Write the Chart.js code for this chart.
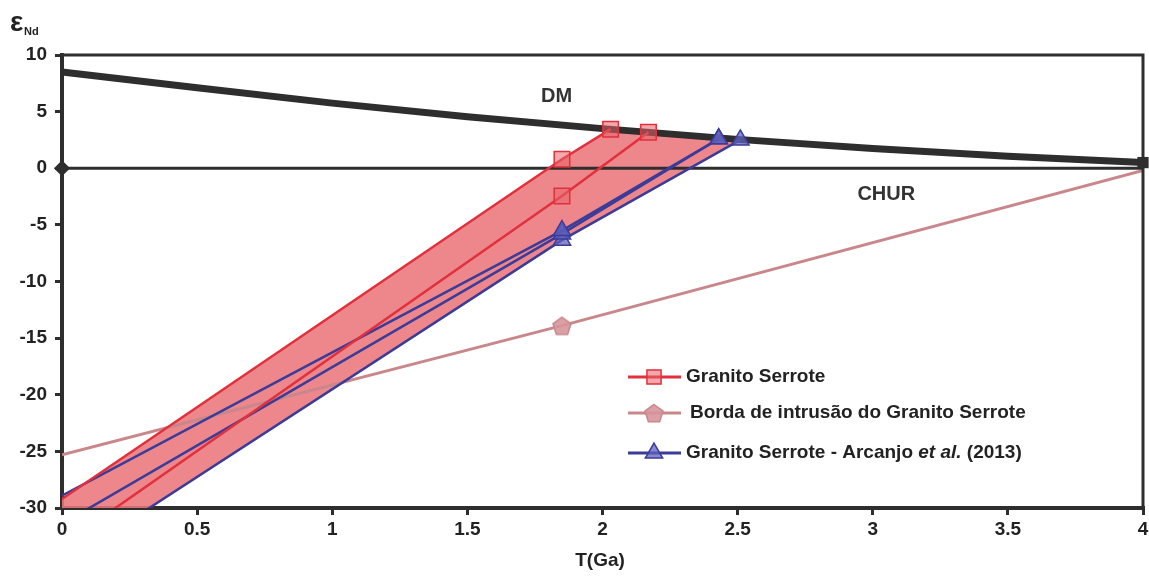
<!DOCTYPE html>
<html>
<head>
<meta charset="utf-8">
<script src="https://cdn.jsdelivr.net/npm/chart.js@4.4.0/dist/chart.umd.min.js"></script>
<style>
  html, body { margin: 0; padding: 0; background: #fff; overflow: hidden; }
  #wrap { width: 1149px; height: 577px; position: relative; }
  canvas { display: block; }
</style>
</head>
<body>
<div id="wrap"><canvas id="chart" width="1149" height="577"></canvas></div>
<script>
// --- DATA (T in Ga, epsilon Nd) ---
const dmT = [0, 0.5, 1, 1.5, 2, 2.5, 3, 3.5, 4];
const dmEps = [8.5, 7.1, 5.75, 4.55, 3.5, 2.55, 1.75, 1.05, 0.5];

const churT = [0, 4];
const churEps = [0, 0];

const serroteAT = [0, 1.85, 2.03];
const serroteAEps = [-29.2, 0.8, 3.45];
const serroteBT = [0, 1.85, 2.17];
const serroteBEps = [-33.3, -2.45, 3.18];

const bordaT = [0, 1.85, 4];
const bordaEps = [-25.3, -13.9, -0.2];

const arcanjoAT = [0, 1.85, 2.43];
const arcanjoAEps = [-28.9, -5.5, 2.6];
const arcanjoBT = [0, 1.85, 2.43];
const arcanjoBEps = [-31.4, -5.8, 2.6];
const arcanjoCT = [0, 1.85, 2.51];
const arcanjoCEps = [-35, -6.35, 2.5];

// shaded envelope of the Serrote model ages
const bandT = [0, 1.85, 2.03, 2.17, 2.43, 2.51, 1.85, 0];
const bandEps = [-29.2, 0.8, 3.45, 3.18, 2.6, 2.5, -6.35, -35];

const xTicks = [0, 0.5, 1, 1.5, 2, 2.5, 3, 3.5, 4];
const yTicks = [10, 5, 0, -5, -10, -15, -20, -25, -30];

const legendLabels = ["Granito Serrote", "Borda de intrusão do Granito Serrote", "Granito Serrote - Arcanjo "];

// --- COLOURS ---
const RED = "#e0313c";
const RED_FILL = "rgba(232, 96, 104, 0.55)";
const BAND = "rgba(234, 118, 124, 0.88)";
const PINK = "#c9878b";
const BLUE = "#3b3b98";
const BLUE_FILL = "rgba(96, 96, 190, 0.75)";
const DARK = "#2e2e2e";
const FONT = "'Liberation Sans', Arial, sans-serif";

const toXY = (xs, ys) => xs.map((x, i) => ({ x, y: ys[i] }));

// pentagon marker for the intrusion border sample
function makePentagon(size) {
  const c = document.createElement("canvas");
  c.width = size; c.height = size;
  const g = c.getContext("2d");
  const r = size / 2 - 1.5;
  g.beginPath();
  for (let i = 0; i < 5; i++) {
    const a = -Math.PI / 2 + i * 2 * Math.PI / 5;
    const px = size / 2 + r * Math.cos(a);
    const py = size / 2 + 1 + r * Math.sin(a);
    if (i === 0) g.moveTo(px, py); else g.lineTo(px, py);
  }
  g.closePath();
  g.fillStyle = "rgba(214, 150, 155, 0.9)";
  g.fill();
  g.lineWidth = 1.5;
  g.strokeStyle = PINK;
  g.stroke();
  return c;
}
const pentagon = makePentagon(22);

const lineDs = (label, xs, ys, color, width, extra) => Object.assign({
  label,
  data: toXY(xs, ys),
  showLine: true,
  borderColor: color,
  borderWidth: width,
  pointRadius: 0,
  clip: 0,
  order: 2,
}, extra || {});

const redPoints = {
  pointStyle: "rect", pointRadius: [0, 11, 11], pointBorderWidth: 1.5,
  pointBackgroundColor: RED_FILL, pointBorderColor: RED,
};
const bluePoints = {
  pointStyle: "triangle", pointRadius: [0, 10, 10], pointBorderWidth: 1.5,
  pointBackgroundColor: BLUE_FILL, pointBorderColor: BLUE,
};

// --- PLUGINS ---
const framePlugin = {
  id: "frame",
  afterDatasetsDraw(chart) {
    const { ctx, chartArea: a } = chart;
    ctx.save();
    ctx.strokeStyle = DARK;
    ctx.lineWidth = 3;
    ctx.beginPath();
    ctx.moveTo(a.left, a.top);
    ctx.lineTo(a.right, a.top);
    ctx.lineTo(a.right, a.bottom);
    ctx.stroke();
    ctx.restore();
  },
};

const textPlugin = {
  id: "texts",
  afterDraw(chart) {
    const { ctx } = chart;
    const xs = chart.scales.x, ys = chart.scales.y;
    ctx.save();
    ctx.fillStyle = "#333";
    ctx.font = `bold 20px ${FONT}`;
    ctx.textBaseline = "middle";
    ctx.textAlign = "center";
    ctx.fillText("DM", xs.getPixelForValue(1.83), ys.getPixelForValue(6.3));
    ctx.fillText("CHUR", xs.getPixelForValue(3.05), ys.getPixelForValue(-2.3));

    // axis titles
    ctx.fillStyle = "#222";
    ctx.font = `bold 19px ${FONT}`;
    ctx.fillText("T(Ga)", 600, 561);
    ctx.textAlign = "left";
    ctx.textBaseline = "alphabetic";
    ctx.font = `bold 28px ${FONT}`;
    ctx.fillText("ε", 10, 31);
    ctx.font = `bold 11px ${FONT}`;
    ctx.fillText("Nd", 24, 35);

    // legend
    const items = [
      { color: RED, style: "rect", r: 10, fill: RED_FILL, y: 377, tx: 686 },
      { color: PINK, style: pentagon, r: 11, fill: null, y: 413, tx: 690 },
      { color: BLUE, style: "triangle", r: 10, fill: BLUE_FILL, y: 453, tx: 686 },
    ];
    items.forEach((it, i) => {
      ctx.strokeStyle = it.color;
      ctx.lineWidth = 3;
      ctx.beginPath();
      ctx.moveTo(628, it.y);
      ctx.lineTo(681, it.y);
      ctx.stroke();
      ctx.fillStyle = it.fill || it.color;
      ctx.lineWidth = 1.5;
      Chart.helpers.drawPoint(ctx, { pointStyle: it.style, radius: it.r, rotation: 0, borderWidth: 1.5 }, 654, it.y);
      ctx.fillStyle = "#222";
      ctx.font = `bold 19px ${FONT}`;
      ctx.textBaseline = "middle";
      ctx.fillText(legendLabels[i], it.tx, it.y);
      if (i === 2) {
        let x = it.tx + ctx.measureText(legendLabels[i]).width;
        ctx.font = `italic bold 19px ${FONT}`;
        ctx.fillText("et al.", x, it.y);
        x += ctx.measureText("et al.").width;
        ctx.font = `bold 19px ${FONT}`;
        ctx.fillText(" (2013)", x, it.y);
      }
    });
    ctx.restore();
  },
};

// --- CHART ---
const ctx = document.getElementById("chart").getContext("2d");
new Chart(ctx, {
  type: "scatter",
  data: {
    datasets: [
      {
        label: "band",
        data: toXY(bandT, bandEps),
        showLine: true,
        borderWidth: 0,
        borderColor: "rgba(0,0,0,0)",
        backgroundColor: BAND,
        fill: "shape",
        pointRadius: 0,
        clip: 0,
        order: 10,
      },
      lineDs("Borda", bordaT, bordaEps, PINK, 3, {
        pointStyle: pentagon, pointRadius: [0, 11, 0], order: 5,
      }),
      lineDs("Granito Serrote A", serroteAT, serroteAEps, RED, 2.5, redPoints),
      lineDs("Granito Serrote B", serroteBT, serroteBEps, RED, 2.5, redPoints),
      lineDs("Arcanjo A", arcanjoAT, arcanjoAEps, BLUE, 2.5, bluePoints),
      lineDs("Arcanjo B", arcanjoBT, arcanjoBEps, BLUE, 2.5, bluePoints),
      lineDs("Arcanjo C", arcanjoCT, arcanjoCEps, BLUE, 2.5, bluePoints),
      lineDs("CHUR", churT, churEps, DARK, 3, {
        pointStyle: "rectRot", pointRadius: [6, 0], pointBackgroundColor: DARK,
        pointBorderColor: DARK, clip: false, order: 4,
      }),
      lineDs("DM", dmT, dmEps, DARK, 7, {
        pointStyle: "rect", pointRadius: [0, 0, 0, 0, 0, 0, 0, 0, 3],
        pointBackgroundColor: DARK, pointBorderColor: DARK, order: 3, clip: false,
      }),
    ],
  },
  options: {
    responsive: false,
    animation: false,
    devicePixelRatio: 1,
    layout: { autoPadding: false, padding: { top: 55, right: 6, left: 0, bottom: 0 } },
    plugins: { legend: { display: false }, tooltip: { enabled: false } },
    scales: {
      x: {
        type: "linear",
        min: 0, max: 4,
        afterFit(s) { s.height = 69; s.paddingLeft = 0; s.paddingRight = 0; },
        afterBuildTicks(s) { s.ticks = xTicks.map(v => ({ value: v })); },
        border: { display: true, color: DARK, width: 4 },
        grid: { drawOnChartArea: false, drawTicks: true, tickLength: 7, color: DARK, lineWidth: 3 },
        ticks: {
          color: "#222", padding: 3, maxRotation: 0,
          font: { family: FONT, size: 19, weight: "bold" },
          callback: v => String(v),
        },
      },
      y: {
        type: "linear",
        min: -30, max: 10,
        afterFit(s) { s.width = 62; s.paddingTop = 0; s.paddingBottom = 0; },
        afterBuildTicks(s) { s.ticks = yTicks.map(v => ({ value: v })); },
        border: { display: true, color: DARK, width: 4 },
        grid: { drawOnChartArea: false, drawTicks: true, tickLength: 7, color: DARK, lineWidth: 3 },
        ticks: {
          color: "#222", padding: 8,
          font: { family: FONT, size: 19, weight: "bold" },
          callback: v => String(v),
        },
      },
    },
  },
  plugins: [framePlugin, textPlugin],
});
</script>
</body>
</html>
